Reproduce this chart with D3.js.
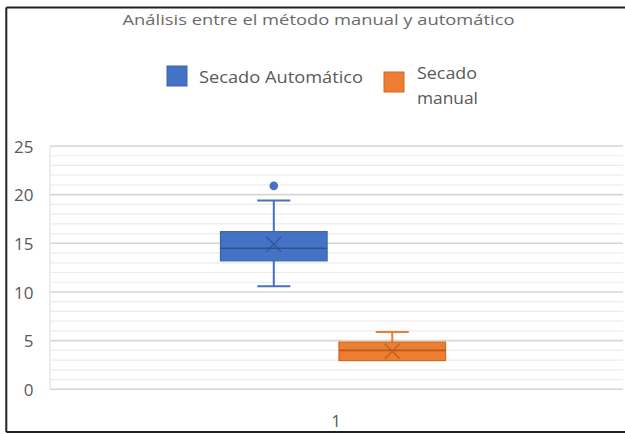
<!DOCTYPE html>
<html>
<head>
<meta charset="utf-8">
<script src="https://cdn.jsdelivr.net/npm/d3@7/dist/d3.min.js"></script>
<style>
  html, body { margin: 0; padding: 0; background: #fff; }
  svg { display: block; font-family: "Open Sans", "Noto Sans", sans-serif; }
</style>
</head>
<body>
<svg id="chart" width="625" height="434"></svg>
<script>
// Box-plot summary for each drying method
const categories = ["1"];
const seriesNames = ["Secado Automático", "Secado manual"];
const whiskerLow = [10.6, 2.95];
const q1 = [13.2, 2.95];
const median = [14.5, 4.0];
const q3 = [16.2, 4.85];
const whiskerHigh = [19.4, 5.9];
const means = [14.9, 3.9];
const outliers = [[20.9], []];
const yTicks = [0, 5, 10, 15, 20, 25];
const titleText = "Análisis entre el método manual y automático";

const fills = ["#4472C4", "#ED7D31"];
const strokes = ["#3A64B0", "#D46A22"];
const darks = ["#2F528F", "#B85A1A"];
const textColor = "#595959";

const svg = d3.select("#chart");
const plot = { left: 50, right: 623, top: 146, bottom: 389.3 };

const y = d3.scaleLinear().domain([0, 25]).range([plot.bottom, plot.top]);
const x0 = d3.scaleBand().domain(categories).range([plot.left, plot.right])
  .paddingInner(0).paddingOuter(0.773).align(0.49);
const x1 = d3.scaleBand().domain(seriesNames).range([0, x0.bandwidth()])
  .paddingInner(0.1).paddingOuter(0);

// Frame
const frame = svg.append("g").attr("stroke", "#222").attr("stroke-width", 2).attr("fill", "none");
frame.append("line").attr("x1", 6.3).attr("x2", 625).attr("y1", 7.5).attr("y2", 7.5);
frame.append("line").attr("x1", 6.3).attr("x2", 6.3).attr("y1", 7.5).attr("y2", 432);
frame.append("line").attr("x1", 6.3).attr("x2", 625).attr("y1", 432).attr("y2", 432);

// Title
svg.append("text")
  .attr("x", 122.5).attr("y", 25)
  .attr("fill", "#6a6a6a").attr("font-size", 15)
  .attr("textLength", 392).attr("lengthAdjust", "spacingAndGlyphs")
  .text(titleText);

// Legend
const legendItems = [
  { sq: [167, 66], lines: [[seriesNames[0], 199, 83, 164]] },
  { sq: [384, 72], lines: [["Secado", 417, 78.5, 60], ["manual", 417, 103.5, 61]] }
];
legendItems.forEach((item, i) => {
  svg.append("rect")
    .attr("x", item.sq[0]).attr("y", item.sq[1])
    .attr("width", 20).attr("height", 20)
    .attr("fill", fills[i]).attr("stroke", strokes[i]).attr("stroke-width", 1);
  item.lines.forEach(([t, lx, ly, w]) => {
    svg.append("text")
      .attr("x", lx).attr("y", ly)
      .attr("fill", textColor).attr("font-size", 17)
      .attr("textLength", w).attr("lengthAdjust", "spacingAndGlyphs")
      .text(t);
  });
});

// Gridlines: minor every 1, major every 5
const minorTicks = d3.range(0, 26).filter(v => v % 5 !== 0);
svg.append("g").selectAll("line").data(minorTicks).join("line")
  .attr("x1", plot.left).attr("x2", plot.right)
  .attr("y1", d => y(d)).attr("y2", d => y(d))
  .attr("stroke", "#ececec").attr("stroke-width", 1.2);
svg.append("g").selectAll("line").data(yTicks).join("line")
  .attr("x1", plot.left).attr("x2", plot.right)
  .attr("y1", d => y(d)).attr("y2", d => y(d))
  .attr("stroke", "#d6d6d6").attr("stroke-width", 1.6);
svg.append("line")
  .attr("x1", plot.left).attr("x2", plot.left)
  .attr("y1", y(25)).attr("y2", y(0))
  .attr("stroke", "#e2e2e2").attr("stroke-width", 1.2);

// Y axis labels
const yAxis = d3.axisLeft(y).tickValues(yTicks).tickSize(0).tickPadding(0);
const gy = svg.append("g").attr("transform", "translate(33.5,0)").call(yAxis);
gy.select(".domain").remove();
gy.selectAll("text").attr("fill", textColor).attr("font-size", 17)
  .attr("font-family", "'Open Sans', sans-serif").attr("dy", "0.36em");

// X axis label
const xAxis = d3.axisBottom(x0).tickSize(0).tickPadding(0);
const gx = svg.append("g").attr("transform", "translate(3,415)").call(xAxis);
gx.select(".domain").remove();
gx.selectAll("text").attr("fill", textColor).attr("font-size", 17)
  .attr("font-family", "'Open Sans', sans-serif").attr("dy", "0.71em");

// Boxes
seriesNames.forEach((name, i) => {
  const bx = x0(categories[0]) + x1(name);
  const bw = x1.bandwidth();
  const cx = bx + bw / 2;
  const capHalf = bw * 0.155;
  const g = svg.append("g");

  // whiskers
  g.append("line").attr("x1", cx).attr("x2", cx)
    .attr("y1", y(whiskerHigh[i])).attr("y2", y(q3[i]))
    .attr("stroke", fills[i]).attr("stroke-width", 2);
  g.append("line").attr("x1", cx - capHalf).attr("x2", cx + capHalf)
    .attr("y1", y(whiskerHigh[i])).attr("y2", y(whiskerHigh[i]))
    .attr("stroke", fills[i]).attr("stroke-width", 2);
  if (whiskerLow[i] < q1[i]) {
    g.append("line").attr("x1", cx).attr("x2", cx)
      .attr("y1", y(q1[i])).attr("y2", y(whiskerLow[i]))
      .attr("stroke", fills[i]).attr("stroke-width", 2);
    g.append("line").attr("x1", cx - capHalf).attr("x2", cx + capHalf)
      .attr("y1", y(whiskerLow[i])).attr("y2", y(whiskerLow[i]))
      .attr("stroke", fills[i]).attr("stroke-width", 2);
  }

  // box
  g.append("rect")
    .attr("x", bx).attr("y", y(q3[i]))
    .attr("width", bw).attr("height", y(q1[i]) - y(q3[i]))
    .attr("fill", fills[i]).attr("stroke", strokes[i]).attr("stroke-width", 1.2);

  // median
  g.append("line").attr("x1", bx).attr("x2", bx + bw)
    .attr("y1", y(median[i])).attr("y2", y(median[i]))
    .attr("stroke", darks[i]).attr("stroke-width", 1.6);

  // mean marker
  const my = y(means[i]);
  const m = 7.5;
  g.append("path")
    .attr("d", `M${cx - m},${my - m}L${cx + m},${my + m}M${cx - m},${my + m}L${cx + m},${my - m}`)
    .attr("stroke", darks[i]).attr("stroke-width", 1.4).attr("fill", "none").attr("opacity", 0.85);

  // outliers
  g.selectAll("circle").data(outliers[i]).join("circle")
    .attr("cx", cx).attr("cy", d => y(d)).attr("r", 4.3)
    .attr("fill", fills[i]);
});
</script>
</body>
</html>
